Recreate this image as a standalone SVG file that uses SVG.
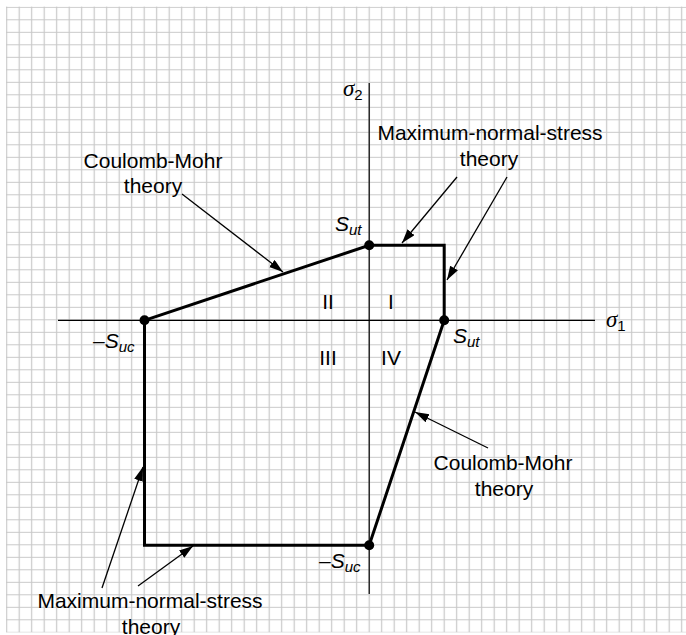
<svg xmlns="http://www.w3.org/2000/svg" width="686" height="635" viewBox="0 0 686 635">
  <defs>
    <pattern id="grid" patternUnits="userSpaceOnUse" x="0.45" y="1.05" width="12.5" height="12.5">
      <path d="M6.25 0V12.5M0 6.25H12.5" stroke="#c8c8c8" stroke-width="1.2" fill="none"/>
    </pattern>
    <marker id="ah" markerUnits="userSpaceOnUse" markerWidth="15" markerHeight="10" refX="14" refY="4.5" orient="auto">
      <path d="M0,0 L14,4.5 L0,9 z" fill="#000"/>
    </marker>
  </defs>
  <style>
    .lbl { font-family: "Liberation Sans", Arial, sans-serif; font-size: 21px; fill: #000; }
    .mid { text-anchor: middle; }
    .it { font-style: italic; }
    .sub { font-size: 15px; }
    .sig { font-family: "Liberation Serif", "Times New Roman", serif; font-style: italic; font-size: 23px; }
    .axis { stroke: #000; stroke-width: 1.2; fill: none; }
    .env { stroke: #000; stroke-width: 3; fill: none; stroke-linejoin: miter; }
    .lead { stroke: #000; stroke-width: 1.3; fill: none; marker-end: url(#ah); }
  </style>
  <rect width="686" height="635" fill="#fff"/>
  <rect x="6" y="6.6" width="680" height="625.8" fill="url(#grid)"/>

  <g id="axes">
    <path class="axis" d="M369.2 83V594"/>
    <path class="axis" d="M58 320.3H595"/>
    <text class="sig" x="343" y="96">σ<tspan class="lbl sub" style="font-style:normal" dy="4">2</tspan></text>
    <text class="sig" x="606" y="327">σ<tspan class="lbl sub" style="font-style:normal" dy="4">1</tspan></text>
  </g>

  <g id="quadrants">
    <text class="lbl mid" x="328" y="309">II</text>
    <text class="lbl mid" x="391" y="309">I</text>
    <text class="lbl mid" x="328" y="365">III</text>
    <text class="lbl mid" x="391" y="365">IV</text>
  </g>

  <g id="envelope">
    <path class="env" d="M144.5 320.3L369.2 245.3H444.2V320.3"/>
    <path class="env" d="M144.5 320.3V545.3H369.2L444.2 320.3"/>
  </g>

  <g id="points">
    <circle cx="369.2" cy="245.3" r="5"/>
    <circle cx="444.2" cy="320.3" r="5"/>
    <circle cx="144.5" cy="320.3" r="5"/>
    <circle cx="369.2" cy="545.3" r="5"/>
    <text class="lbl it" x="335" y="231">S<tspan class="sub" dy="4">ut</tspan></text>
    <text class="lbl it" x="453" y="343">S<tspan class="sub" dy="4">ut</tspan></text>
    <text class="lbl it" x="93" y="348">–S<tspan class="sub" dy="4">uc</tspan></text>
    <text class="lbl it" x="319" y="568">–S<tspan class="sub" dy="4">uc</tspan></text>
  </g>

  <g id="connectors">
    <path class="lead" d="M182 194L283 272"/>
    <path class="lead" d="M457 177L402 243"/>
    <path class="lead" d="M507 177L447 280"/>
    <path class="lead" d="M488 448L415 412"/>
    <path class="lead" d="M102 588L143 467"/>
    <path class="lead" d="M138 586L193 546"/>
  </g>

  <g id="label-cm-top">
    <text class="lbl mid" x="153" y="168">Coulomb-Mohr</text>
    <text class="lbl mid" x="153" y="193">theory</text>
  </g>
  <g id="label-mns-top">
    <text class="lbl mid" x="490" y="140">Maximum-normal-stress</text>
    <text class="lbl mid" x="489" y="166">theory</text>
  </g>
  <g id="label-cm-bottom">
    <text class="lbl mid" x="503" y="470">Coulomb-Mohr</text>
    <text class="lbl mid" x="504" y="496">theory</text>
  </g>
  <g id="label-mns-bottom">
    <text class="lbl mid" x="150" y="608">Maximum-normal-stress</text>
    <text class="lbl mid" x="151" y="634">theory</text>
  </g>
</svg>
